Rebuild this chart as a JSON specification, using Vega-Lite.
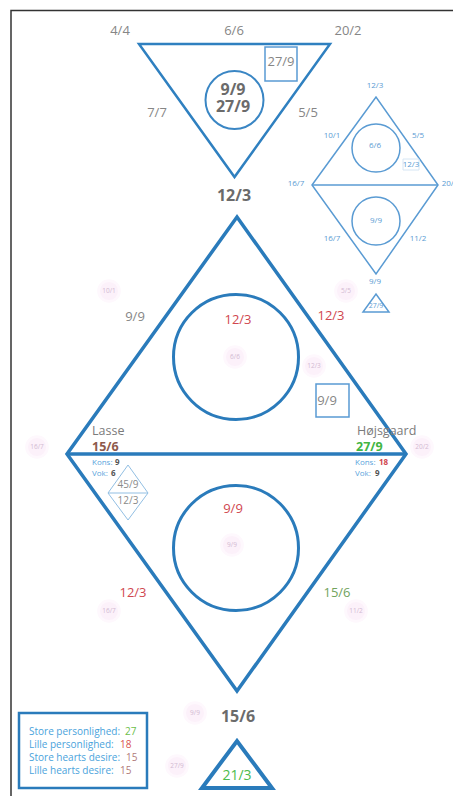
{
  "$schema": "https://vega.github.io/schema/vega-lite/v6.json",
  "width": 453,
  "height": 796,
  "padding": 0,
  "autosize": {"type": "none"},
  "background": "white",
  "view": {"stroke": null},
  "config": {"text": {"font": "Open Sans"}},
  "datasets": {
    "lines": [
      {"path": "big", "o": 1, "x": 152, "y": 335.5},
      {"path": "big", "o": 2, "x": 237, "y": 217},
      {"path": "big", "o": 3, "x": 406, "y": 454},
      {"path": "big", "o": 4, "x": 237, "y": 691},
      {"path": "big", "o": 5, "x": 67, "y": 454},
      {"path": "big", "o": 6, "x": 152, "y": 335.5},
      {"path": "bigh", "o": 1, "x": 67, "y": 454},
      {"path": "bigh", "o": 2, "x": 406, "y": 454},
      {"path": "top", "o": 1, "x": 234.5, "y": 44},
      {"path": "top", "o": 2, "x": 330, "y": 44},
      {"path": "top", "o": 3, "x": 234.5, "y": 177},
      {"path": "top", "o": 4, "x": 139, "y": 44},
      {"path": "top", "o": 5, "x": 234.5, "y": 44},
      {"path": "sd", "o": 1, "x": 344, "y": 141},
      {"path": "sd", "o": 2, "x": 376, "y": 97},
      {"path": "sd", "o": 3, "x": 438, "y": 185},
      {"path": "sd", "o": 4, "x": 376, "y": 274},
      {"path": "sd", "o": 5, "x": 312, "y": 185},
      {"path": "sd", "o": 6, "x": 344, "y": 141},
      {"path": "sdh", "o": 1, "x": 312, "y": 185},
      {"path": "sdh", "o": 2, "x": 438, "y": 185},
      {"path": "st", "o": 1, "x": 376, "y": 312},
      {"path": "st", "o": 2, "x": 389, "y": 312},
      {"path": "st", "o": 3, "x": 376, "y": 294},
      {"path": "st", "o": 4, "x": 363, "y": 312},
      {"path": "st", "o": 5, "x": 376, "y": 312},
      {"path": "gd", "o": 1, "x": 118, "y": 479},
      {"path": "gd", "o": 2, "x": 128, "y": 465},
      {"path": "gd", "o": 3, "x": 148, "y": 493},
      {"path": "gd", "o": 4, "x": 128, "y": 520},
      {"path": "gd", "o": 5, "x": 108, "y": 493},
      {"path": "gd", "o": 6, "x": 118, "y": 479},
      {"path": "gdh", "o": 1, "x": 108, "y": 493},
      {"path": "gdh", "o": 2, "x": 148, "y": 493},
      {"path": "bt", "o": 1, "x": 237, "y": 788},
      {"path": "bt", "o": 2, "x": 272, "y": 788},
      {"path": "bt", "o": 3, "x": 237, "y": 741},
      {"path": "bt", "o": 4, "x": 202, "y": 788},
      {"path": "bt", "o": 5, "x": 237, "y": 788},
      {"path": "border", "o": 1, "x": 453, "y": 10.5},
      {"path": "border", "o": 2, "x": 11, "y": 10.5},
      {"path": "border", "o": 3, "x": 11, "y": 796}
    ],
    "circ": [
      {"k": "top", "x": 234.5, "y": 100},
      {"k": "sd", "x": 376, "y": 148},
      {"k": "sd", "x": 376, "y": 221},
      {"k": "big", "x": 236, "y": 357},
      {"k": "big", "x": 236, "y": 548},
      {"k": "pink", "x": 109, "y": 291},
      {"k": "pink", "x": 346, "y": 291},
      {"k": "pink", "x": 235, "y": 357},
      {"k": "pink", "x": 314, "y": 366},
      {"k": "pink", "x": 37, "y": 447},
      {"k": "pink", "x": 422, "y": 447},
      {"k": "pink", "x": 232, "y": 545},
      {"k": "pink", "x": 109, "y": 611},
      {"k": "pink", "x": 356, "y": 611},
      {"k": "pink", "x": 195, "y": 713},
      {"k": "pink", "x": 177, "y": 766}
    ],
    "rects": [
      {"k": "sq", "x": 265, "x2": 297, "y": 47, "y2": 81},
      {"k": "sq", "x": 316, "x2": 349, "y": 384, "y2": 417},
      {"k": "faint", "x": 403, "x2": 419, "y": 159, "y2": 170},
      {"k": "legend", "x": 19, "x2": 147, "y": 713, "y2": 788}
    ],
    "labels": [
      {"k": "o", "x": 120, "y": 31, "t": "4/4"},
      {"k": "o", "x": 234, "y": 31, "t": "6/6"},
      {"k": "o", "x": 348, "y": 31, "t": "20/2"},
      {"k": "o", "x": 157, "y": 113, "t": "7/7"},
      {"k": "o", "x": 308, "y": 113, "t": "5/5"},
      {"k": "o", "x": 281, "y": 62, "t": "27/9"},
      {"k": "o", "x": 135, "y": 317, "t": "9/9"},
      {"k": "o", "x": 327, "y": 401, "t": "9/9"},
      {"k": "c", "x": 233, "y": 90, "t": "9/9"},
      {"k": "c", "x": 233, "y": 107, "t": "27/9"},
      {"k": "c", "x": 234, "y": 196, "t": "12/3"},
      {"k": "c", "x": 238, "y": 717, "t": "15/6"},
      {"k": "r", "x": 238, "y": 320, "t": "12/3"},
      {"k": "r", "x": 331, "y": 316, "t": "12/3"},
      {"k": "r", "x": 233, "y": 509, "t": "9/9"},
      {"k": "r", "x": 133, "y": 593, "t": "12/3"},
      {"k": "g", "x": 337, "y": 593, "t": "15/6"},
      {"k": "n", "x": 92, "y": 431, "t": "Lasse"},
      {"k": "n", "x": 357, "y": 431, "t": "Højsgaard"},
      {"k": "nb", "x": 92, "y": 447, "t": "15/6"},
      {"k": "ng", "x": 356, "y": 447, "t": "27/9"},
      {"k": "s", "x": 375, "y": 86, "t": "12/3"},
      {"k": "s", "x": 332, "y": 136, "t": "10/1"},
      {"k": "s", "x": 418, "y": 136, "t": "5/5"},
      {"k": "s", "x": 375, "y": 146, "t": "6/6"},
      {"k": "s", "x": 411, "y": 165, "t": "12/3"},
      {"k": "s", "x": 296, "y": 184, "t": "16/7"},
      {"k": "s", "x": 450, "y": 184, "t": "20/2"},
      {"k": "s", "x": 376, "y": 221, "t": "9/9"},
      {"k": "s", "x": 332, "y": 239, "t": "16/7"},
      {"k": "s", "x": 418, "y": 239, "t": "11/2"},
      {"k": "s", "x": 375, "y": 282, "t": "9/9"},
      {"k": "s7", "x": 376, "y": 306, "t": "27/9"},
      {"k": "d", "x": 128, "y": 485, "t": "45/9"},
      {"k": "d", "x": 128, "y": 501, "t": "12/3"},
      {"k": "p", "x": 109, "y": 291, "t": "10/1"},
      {"k": "p", "x": 346, "y": 291, "t": "5/5"},
      {"k": "p", "x": 235, "y": 357, "t": "6/6"},
      {"k": "p", "x": 314, "y": 366, "t": "12/3"},
      {"k": "p", "x": 37, "y": 447, "t": "16/7"},
      {"k": "p", "x": 422, "y": 447, "t": "20/2"},
      {"k": "p", "x": 232, "y": 545, "t": "9/9"},
      {"k": "p", "x": 109, "y": 611, "t": "16/7"},
      {"k": "p", "x": 356, "y": 611, "t": "11/2"},
      {"k": "p", "x": 195, "y": 713, "t": "9/9"},
      {"k": "p", "x": 177, "y": 766, "t": "27/9"},
      {"k": "kl", "x": 92, "y": 463, "t": "Kons:"},
      {"k": "kl", "x": 92, "y": 474, "t": "Vok:"},
      {"k": "kl", "x": 355, "y": 463, "t": "Kons:"},
      {"k": "kl", "x": 355, "y": 474, "t": "Vok:"},
      {"k": "kv", "x": 115, "y": 463, "t": "9"},
      {"k": "kv", "x": 111, "y": 474, "t": "6"},
      {"k": "kr", "x": 379, "y": 463, "t": "18"},
      {"k": "kv", "x": 375, "y": 474, "t": "9"},
      {"k": "ll", "x": 29, "y": 732, "t": "Store personlighed:"},
      {"k": "ll", "x": 29, "y": 745, "t": "Lille personlighed:"},
      {"k": "ll", "x": 29, "y": 758, "t": "Store hearts desire:"},
      {"k": "ll", "x": 29, "y": 771, "t": "Lille hearts desire:"},
      {"k": "lg", "x": 125, "y": 732, "t": "27"},
      {"k": "lr", "x": 120, "y": 745, "t": "18"},
      {"k": "lb", "x": 126, "y": 758, "t": "15"},
      {"k": "lb", "x": 120, "y": 771, "t": "15"},
      {"k": "g14", "x": 237, "y": 776, "t": "21/3"}
    ]
  },
  "encoding": {
    "x": {"field": "x", "type": "quantitative", "scale": {"domain": [0, 453], "nice": false, "zero": false}, "axis": null},
    "y": {"field": "y", "type": "quantitative", "scale": {"domain": [0, 796], "nice": false, "zero": false, "reverse": true}, "axis": null}
  },
  "layer": [
    {"data": {"name": "circ"}, "transform": [{"filter": "datum.k == 'pink'"}],
     "mark": {"type": "point", "shape": "circle", "filled": true, "size": 560, "color": "#fef8fd", "opacity": 1}},
    {"data": {"name": "circ"}, "transform": [{"filter": "datum.k == 'pink'"}],
     "mark": {"type": "point", "shape": "circle", "filled": true, "size": 330, "color": "#fcf1fa", "opacity": 1}},
    {"data": {"name": "lines"}, "transform": [{"filter": "datum.path == 'big' || datum.path == 'bigh'"}],
     "mark": {"type": "line", "color": "#2a7bbb", "strokeWidth": 3.5, "strokeJoin": "miter"},
     "encoding": {"detail": {"field": "path"}, "order": {"field": "o"}}},
    {"data": {"name": "lines"}, "transform": [{"filter": "datum.path == 'top'"}],
     "mark": {"type": "line", "color": "#2f80c0", "strokeWidth": 2.5, "strokeJoin": "miter"},
     "encoding": {"detail": {"field": "path"}, "order": {"field": "o"}}},
    {"data": {"name": "lines"}, "transform": [{"filter": "datum.path == 'bt'"}],
     "mark": {"type": "line", "color": "#2a7bbb", "strokeWidth": 4, "strokeJoin": "miter"},
     "encoding": {"detail": {"field": "path"}, "order": {"field": "o"}}},
    {"data": {"name": "lines"}, "transform": [{"filter": "datum.path == 'sd' || datum.path == 'sdh' || datum.path == 'st'"}],
     "mark": {"type": "line", "color": "#5a9bd3", "strokeWidth": 1.5, "strokeJoin": "miter"},
     "encoding": {"detail": {"field": "path"}, "order": {"field": "o"}}},
    {"data": {"name": "lines"}, "transform": [{"filter": "datum.path == 'gd' || datum.path == 'gdh'"}],
     "mark": {"type": "line", "color": "#92bfe3", "strokeWidth": 1, "strokeJoin": "miter"},
     "encoding": {"detail": {"field": "path"}, "order": {"field": "o"}}},
    {"data": {"name": "lines"}, "transform": [{"filter": "datum.path == 'border'"}],
     "mark": {"type": "line", "color": "#333333", "strokeWidth": 1.5, "strokeJoin": "miter"},
     "encoding": {"detail": {"field": "path"}, "order": {"field": "o"}}},
    {"data": {"name": "circ"}, "transform": [{"filter": "datum.k == 'top'"}],
     "mark": {"type": "point", "shape": "circle", "filled": false, "size": 3364, "color": "#3a86c4", "strokeWidth": 2, "opacity": 1}},
    {"data": {"name": "circ"}, "transform": [{"filter": "datum.k == 'sd'"}],
     "mark": {"type": "point", "shape": "circle", "filled": false, "size": 2304, "color": "#5a9bd3", "strokeWidth": 1.5, "opacity": 1}},
    {"data": {"name": "circ"}, "transform": [{"filter": "datum.k == 'big'"}],
     "mark": {"type": "point", "shape": "circle", "filled": false, "size": 15625, "color": "#2a7bbb", "strokeWidth": 3, "opacity": 1}},
    {"data": {"name": "rects"}, "transform": [{"filter": "datum.k == 'sq'"}],
     "mark": {"type": "rect", "fill": null, "fillOpacity": 0, "stroke": "#5a9bd3", "strokeWidth": 1.5},
     "encoding": {"x2": {"field": "x2"}, "y2": {"field": "y2"}}},
    {"data": {"name": "rects"}, "transform": [{"filter": "datum.k == 'faint'"}],
     "mark": {"type": "rect", "fill": null, "fillOpacity": 0, "stroke": "#d6e6f4", "strokeWidth": 1},
     "encoding": {"x2": {"field": "x2"}, "y2": {"field": "y2"}}},
    {"data": {"name": "rects"}, "transform": [{"filter": "datum.k == 'legend'"}],
     "mark": {"type": "rect", "fill": null, "fillOpacity": 0, "stroke": "#2a7bbb", "strokeWidth": 2.5},
     "encoding": {"x2": {"field": "x2"}, "y2": {"field": "y2"}}},
    {"data": {"name": "labels"}, "transform": [{"filter": "datum.k == 'o'"}],
     "mark": {"type": "text", "fontSize": 13, "color": "#868686", "baseline": "middle", "align": "center"},
     "encoding": {"text": {"field": "t"}}},
    {"data": {"name": "labels"}, "transform": [{"filter": "datum.k == 'c'"}],
     "mark": {"type": "text", "fontSize": 16, "fontWeight": "bold", "color": "#6b6b6b", "baseline": "middle", "align": "center"},
     "encoding": {"text": {"field": "t"}}},
    {"data": {"name": "labels"}, "transform": [{"filter": "datum.k == 'r'"}],
     "mark": {"type": "text", "fontSize": 13, "color": "#d0474f", "baseline": "middle", "align": "center"},
     "encoding": {"text": {"field": "t"}}},
    {"data": {"name": "labels"}, "transform": [{"filter": "datum.k == 'g'"}],
     "mark": {"type": "text", "fontSize": 13, "color": "#72a35e", "baseline": "middle", "align": "center"},
     "encoding": {"text": {"field": "t"}}},
    {"data": {"name": "labels"}, "transform": [{"filter": "datum.k == 'n'"}],
     "mark": {"type": "text", "fontSize": 12.5, "color": "#7b7b7b", "baseline": "middle", "align": "left"},
     "encoding": {"text": {"field": "t"}}},
    {"data": {"name": "labels"}, "transform": [{"filter": "datum.k == 'nb'"}],
     "mark": {"type": "text", "fontSize": 12.5, "fontWeight": "bold", "color": "#8e5a4c", "baseline": "middle", "align": "left"},
     "encoding": {"text": {"field": "t"}}},
    {"data": {"name": "labels"}, "transform": [{"filter": "datum.k == 'ng'"}],
     "mark": {"type": "text", "fontSize": 12.5, "fontWeight": "bold", "color": "#43b543", "baseline": "middle", "align": "left"},
     "encoding": {"text": {"field": "t"}}},
    {"data": {"name": "labels"}, "transform": [{"filter": "datum.k == 's'"}],
     "mark": {"type": "text", "fontSize": 8, "color": "#5a9bd3", "baseline": "middle", "align": "center"},
     "encoding": {"text": {"field": "t"}}},
    {"data": {"name": "labels"}, "transform": [{"filter": "datum.k == 's7'"}],
     "mark": {"type": "text", "fontSize": 7, "color": "#5a9bd3", "baseline": "middle", "align": "center"},
     "encoding": {"text": {"field": "t"}}},
    {"data": {"name": "labels"}, "transform": [{"filter": "datum.k == 'd'"}],
     "mark": {"type": "text", "fontSize": 10, "color": "#8a8a8a", "baseline": "middle", "align": "center"},
     "encoding": {"text": {"field": "t"}}},
    {"data": {"name": "labels"}, "transform": [{"filter": "datum.k == 'p'"}],
     "mark": {"type": "text", "fontSize": 6.5, "color": "#d2bad2", "baseline": "middle", "align": "center"},
     "encoding": {"text": {"field": "t"}}},
    {"data": {"name": "labels"}, "transform": [{"filter": "datum.k == 'kl'"}],
     "mark": {"type": "text", "fontSize": 8, "color": "#5aa5dc", "baseline": "middle", "align": "left"},
     "encoding": {"text": {"field": "t"}}},
    {"data": {"name": "labels"}, "transform": [{"filter": "datum.k == 'kv'"}],
     "mark": {"type": "text", "fontSize": 8, "fontWeight": "bold", "color": "#555555", "baseline": "middle", "align": "left"},
     "encoding": {"text": {"field": "t"}}},
    {"data": {"name": "labels"}, "transform": [{"filter": "datum.k == 'kr'"}],
     "mark": {"type": "text", "fontSize": 8, "fontWeight": "bold", "color": "#d0474f", "baseline": "middle", "align": "left"},
     "encoding": {"text": {"field": "t"}}},
    {"data": {"name": "labels"}, "transform": [{"filter": "datum.k == 'll'"}],
     "mark": {"type": "text", "fontSize": 10, "color": "#4aa3dc", "baseline": "middle", "align": "left"},
     "encoding": {"text": {"field": "t"}}},
    {"data": {"name": "labels"}, "transform": [{"filter": "datum.k == 'lg'"}],
     "mark": {"type": "text", "fontSize": 10, "color": "#6cc04a", "baseline": "middle", "align": "left"},
     "encoding": {"text": {"field": "t"}}},
    {"data": {"name": "labels"}, "transform": [{"filter": "datum.k == 'lr'"}],
     "mark": {"type": "text", "fontSize": 10, "color": "#d9534f", "baseline": "middle", "align": "left"},
     "encoding": {"text": {"field": "t"}}},
    {"data": {"name": "labels"}, "transform": [{"filter": "datum.k == 'lb'"}],
     "mark": {"type": "text", "fontSize": 10, "color": "#b07a7a", "baseline": "middle", "align": "left"},
     "encoding": {"text": {"field": "t"}}},
    {"data": {"name": "labels"}, "transform": [{"filter": "datum.k == 'g14'"}],
     "mark": {"type": "text", "fontSize": 14, "color": "#4cbb4c", "baseline": "middle", "align": "center"},
     "encoding": {"text": {"field": "t"}}}
  ]
}
